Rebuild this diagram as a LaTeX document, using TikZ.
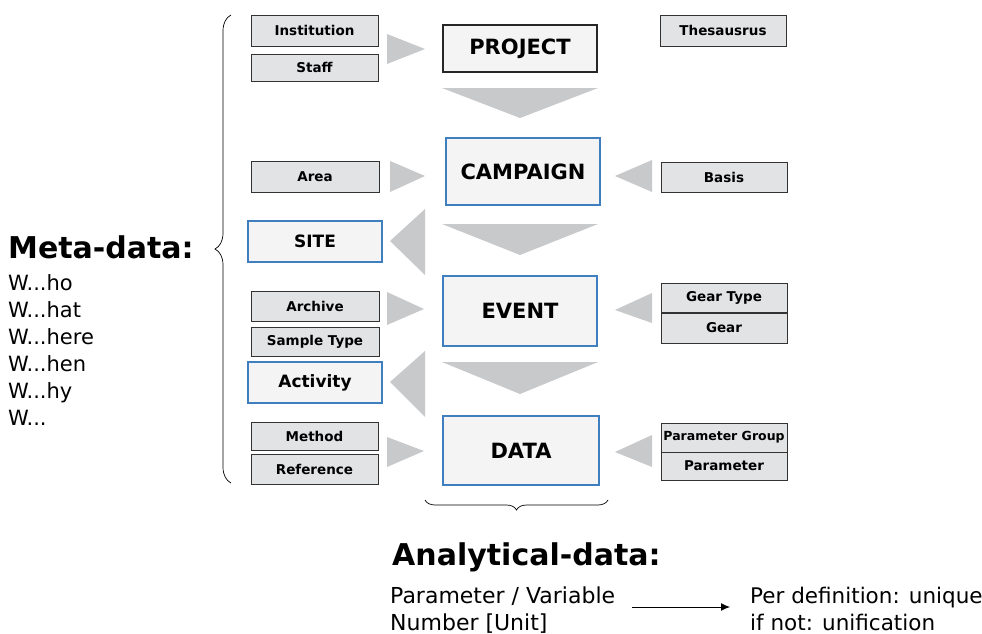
\documentclass[tikz,border=0pt]{standalone}
\usepackage{fontspec}
\setmainfont{DejaVu Sans}
\usetikzlibrary{decorations.pathreplacing,calc,arrows.meta}
\definecolor{boxgray}{HTML}{E2E3E5}
\definecolor{mainfill}{HTML}{F4F4F4}
\definecolor{myblue}{HTML}{3F7FBF}
\definecolor{trigray}{HTML}{C8C9CB}
\tikzset{
  small/.style={draw=black!80, fill=boxgray, line width=0.9pt, inner sep=0pt, font=\fontsize{13.5}{13.5}\selectfont\bfseries},
  mainbox/.style={fill=mainfill, line width=1.8pt, inner sep=0pt, font=\fontsize{21}{21}\selectfont\bfseries},
  sidebox/.style={draw=myblue, fill=mainfill, line width=1.5pt, inner sep=0pt, font=\fontsize{17}{17}\selectfont\bfseries},
  tri/.style={fill=trigray},
  txt/.style={anchor=base west, inner sep=0pt, font=\fontsize{21}{21}\selectfont},
  head/.style={anchor=base west, inner sep=0pt, font=\fontsize{30}{30}\selectfont\bfseries},
}
\newcommand{\bx}[5]{\node[#1, minimum width=#4-#2, minimum height=#5-#3] at ({(#2+#4)/2},{(#3+#5)/2})}
\begin{document}
\begin{tikzpicture}[x=1pt,y=-1pt]
\useasboundingbox (0,0) rectangle (982,634);
% triangles
\fill[tri] (387,34) -- (425,49) -- (387,64) -- cycle;
\fill[tri] (442,88) -- (598,88) -- (520,118) -- cycle;
\fill[tri] (390,161) -- (425,176) -- (390,192) -- cycle;
\fill[tri] (652,160) -- (615,176) -- (652,192) -- cycle;
\fill[tri] (425,209) -- (390,241) -- (425,275) -- cycle;
\fill[tri] (442,224) -- (598,224) -- (520,255) -- cycle;
\fill[tri] (387,292) -- (424,309) -- (387,325) -- cycle;
\fill[tri] (652,293) -- (615,310) -- (652,323) -- cycle;
\fill[tri] (425,351) -- (390,382) -- (425,417) -- cycle;
\fill[tri] (442,362) -- (598,362) -- (520,394) -- cycle;
\fill[tri] (387,437) -- (424,451) -- (387,467) -- cycle;
\fill[tri] (652,435) -- (615,452) -- (652,467) -- cycle;
% small boxes
\bx{small}{251}{15}{378}{46} (inst) {Institution};
\bx{small}{251}{54}{378}{81} (staff) {Staff};
\bx{small}{660}{15}{786}{46} (thes) {Thesausrus};
\bx{small}{251}{161}{379}{192} (area) {Area};
\bx{small}{661}{162}{787}{192} (basis) {Basis};
\bx{small}{251}{291}{379}{321} (arch) {Archive};
\bx{small}{251}{327}{379}{356} (samp) {Sample Type};
\bx{small}{661}{283}{787}{312} (geart) {Gear Type};
\bx{small}{661}{313}{787}{343} (gear) {Gear};
\bx{small}{251}{422}{378}{450} (meth) {Method};
\bx{small}{251}{454}{378}{484} (ref) {Reference};
\bx{small,font=\fontsize{12.5}{12.5}\selectfont\bfseries}{661}{423}{787}{452} (pgrp) {Parameter Group};
\bx{small}{661}{452}{787}{480} (par) {Parameter};
% main boxes
\bx{mainbox,draw=black!85}{443}{25}{597}{72} (proj) {PROJECT};
\bx{mainbox,draw=myblue}{446}{138}{600}{205} (camp) {CAMPAIGN};
\bx{mainbox,draw=myblue}{443}{276}{597}{346} (event) {EVENT};
\bx{mainbox,draw=myblue}{443}{416}{599}{485} (data) {DATA};
\bx{sidebox}{248}{221}{382}{262} (site) {SITE};
\bx{sidebox}{248}{362}{382}{403} (act) {Activity};
% braces
\coordinate (bt) at (231,15);
\coordinate (bb) at (231,483);
\draw[line width=0.7pt, decorate, decoration={brace, amplitude=16pt, aspect=0.5}] (bb) -- (bt);
\coordinate (dl) at (425,500);
\coordinate (dr) at (608,500);
\draw[line width=0.7pt, decorate, decoration={brace, amplitude=10pt}] (dr) -- (dl);
% texts
\node[head] (meta) at (8,258) {Meta-data:};
\node[txt] (w1) at (8,290) {W...ho};
\node[txt] (w2) at (8,317) {W...hat};
\node[txt] (w3) at (8,344) {W...here};
\node[txt] (w4) at (8,371) {W...hen};
\node[txt] (w5) at (8,398) {W...hy};
\node[txt] (w6) at (8,425) {W...};
\node[head] (anal) at (392,565) {Analytical-data:};
\node[txt,font=\fontsize{22}{22}\selectfont] (pv1) at (390,603) {Parameter / Variable};
\node[txt,font=\fontsize{22}{22}\selectfont] (pv2) at (390,630) {Number [Unit]};
\node[txt,font=\fontsize{21.5}{21.5}\selectfont] (pd1) at (750,603) {Per definition: unique};
\node[txt,font=\fontsize{21.5}{21.5}\selectfont] (pd2) at (750,630) {if not: unification};
\coordinate (a1) at (632,607);
\coordinate (a2) at (730,607);
\draw[line width=1pt, -{Latex[length=9pt,width=8pt]}] (a1) -- (a2);
\end{tikzpicture}
\end{document}
